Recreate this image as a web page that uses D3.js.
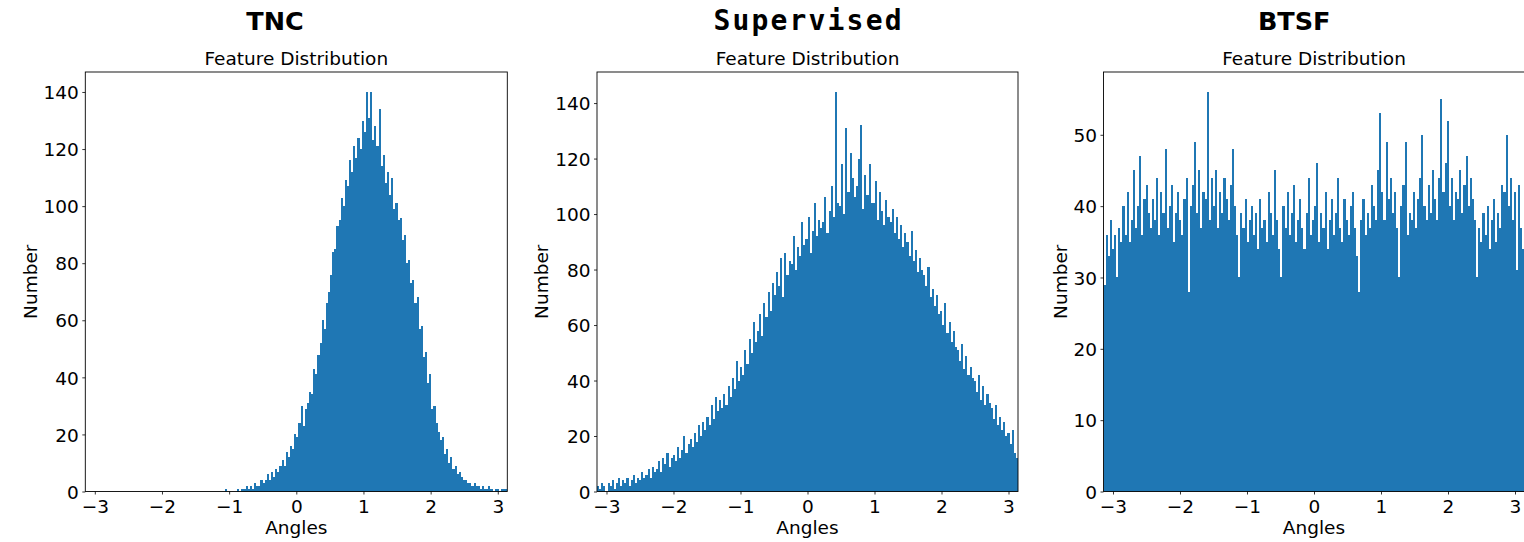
<!DOCTYPE html>
<html><head><meta charset="utf-8">
<script src="https://cdn.jsdelivr.net/npm/d3@7"></script>
<style>body{margin:0;background:#fff} svg{display:block}</style>
</head><body>
<svg id="chart" width="1524" height="542"></svg>
<script>
// ---- data: histogram bin counts over [-pi, pi], 200 bins each ----
const tncCounts = [
0,0,0,0,0,0,0,0,0,0, 0,0,0,0,0,0,0,0,0,0, 0,0,0,0,0,0,0,0,0,0,
0,0,0,0,0,0,0,0,0,0, 0,0,0,0,0,0,0,0,0,0, 0,0,0,0,0,0,0,0,0,0,
0,0,0,0,0,0,
1,0,0,0,0,0,1,0,1,1,2,1,2,1,3,2,2,4,3,4,6,4,7,5,8,7,9,11,9,14,12,16,15,20,
19,24,30,23,29,31,35,34,43,41,48,52,60,57,66,70,76,84,85,93,95,103,100,109,107,116,
112,121,117,124,120,130,126,140,131,140,123,128,121,134,114,118,108,112,104,110,
99,101,95,96,88,90,80,81,73,74,66,68,57,58,47,49,38,41,29,30,
24,21,18,19,13,15,10,12,8,9,6,7,5,4,4,3,3,2,3,2,
2,1,2,1,1,2,1,0,1,1,0,1,1,1
];
const supervisedCounts = [
2,1,3,2,0,3,2,4,1,3,5,2,
4,3,5,2,4,6,3,5,
4,7,5,6,8,5,9,7,
8,11,7,12,10,14,9,12,
13,11,16,12,15,20,14,17,
19,16,21,18,24,20,25,22,
27,24,31,26,34,29,33,30,
35,31,38,34,41,37,47,40,
45,42,51,46,55,50,61,54,
58,64,56,68,63,72,65,75,
71,79,74,84,70,86,78,83,
82,92,80,88,85,97,89,
91,99,86,94,104,92,98,95,
97,106,93,101,110,99,144,104,
103,118,100,131,108,122,113,106,
110,120,132,102,114,107,118,104,
104,112,98,108,101,96,105,99,
97,102,93,99,91,96,88,93,
90,85,94,83,87,79,84,80,
78,74,81,70,73,67,71,64,
65,60,68,57,61,54,58,52,
51,47,53,44,49,42,45,41,
40,36,42,33,38,31,35,32,
30,26,31,24,27,22,25,20,
21,17,22,14,12
];
const btsfCounts = [
29,36,33,38,34,36,30,37,35,40,
36,42,35,38,45,37,40,47,36,41,
43,39,37,41,38,44,36,42,39,48,
37,40,43,35,39,42,38,36,41,44,
28,40,43,49,39,45,37,42,41,56,
38,44,40,45,37,42,39,44,41,38,
43,48,40,36,30,39,37,41,35,38,
40,36,39,34,41,37,38,35,42,39,
36,45,38,34,30,40,37,42,36,39,
43,35,38,41,37,34,39,44,36,38,
40,46,35,39,37,42,34,38,41,36,
39,44,37,35,41,38,36,40,42,37,
33,28,38,41,36,39,37,43,40,38,
45,53,42,38,49,41,44,39,42,37,
30,40,43,49,36,39,38,42,37,41,
44,50,40,38,43,39,45,41,38,44,
55,42,46,52,40,44,38,42,41,45,
39,43,47,40,44,41,38,30,37,35,
39,36,40,34,38,41,35,39,37,43,
42,50,40,44,38,42,31,43,37,34
];
const xTickValues = [-3, -2, -1, 0, 1, 2, 3];
const tncYTicks = [0, 20, 40, 60, 80, 100, 120, 140];
const supervisedYTicks = [0, 20, 40, 60, 80, 100, 120, 140];
const btsfYTicks = [0, 10, 20, 30, 40, 50];
const panelTitles = ["TNC", "Supervised", "BTSF"];
const subtitleText = "Feature Distribution";
const xLabelText = "Angles";
const yLabelText = "Number";

// ---- layout ----
const TOP = 72, BOTTOM = 491.5;
const BAR = "#1f77b4";
const FONT = "'DejaVu Sans', sans-serif";
const panels = [
  {title: panelTitles[0], counts: tncCounts, yTicks: tncYTicks, left: 85.3, right: 507.3,
   titleX: 275, mono: false, ylabelX: 36.5},
  {title: panelTitles[1], counts: supervisedCounts, yTicks: supervisedYTicks, left: 597, right: 1018,
   titleX: 807.5, mono: true, ylabelX: 548.3},
  {title: panelTitles[2], counts: btsfCounts, yTicks: btsfYTicks, left: 1103.5, right: 1524.5,
   titleX: 1294.2, mono: false, ylabelX: 1066.7}
];

const svg = d3.select("#chart");
const PI = Math.PI;

panels.forEach(p => {
  const n = p.counts.length;
  const w = 2 * PI / n;
  const x = d3.scaleLinear().domain([-PI, PI]).range([p.left, p.right]);
  const y = d3.scaleLinear().domain([0, d3.max(p.counts) * 1.05]).range([BOTTOM, TOP]);
  const g = svg.append("g");

  const cid = "clip" + Math.round(p.left);
  svg.append("clipPath").attr("id", cid).append("rect")
    .attr("x", p.left).attr("y", TOP).attr("width", p.right - p.left).attr("height", BOTTOM - TOP);

  g.append("g").attr("clip-path", `url(#${cid})`).attr("shape-rendering", "crispEdges")
    .selectAll("rect").data(p.counts).join("rect")
    .attr("x", (d, i) => x(-PI + i * w))
    .attr("width", (d, i) => x(-PI + (i + 1) * w) - x(-PI + i * w))
    .attr("y", d => y(d))
    .attr("height", d => BOTTOM - y(d))
    .attr("fill", BAR);

  // x axis
  const xa = g.append("g").attr("transform", `translate(0,${BOTTOM})`)
    .call(d3.axisBottom(x).tickValues(xTickValues).tickSize(3).tickPadding(5)
      .tickFormat(v => (v < 0 ? "\u2212" + Math.abs(v) : String(v))));
  xa.select(".domain").remove();
  xa.selectAll("line").attr("stroke", "#000").attr("stroke-width", 0.8);
  xa.selectAll("text").attr("font-family", FONT).attr("font-size", 18.5).attr("fill", "#000");

  // y axis
  const ya = g.append("g").attr("transform", `translate(${p.left},0)`)
    .call(d3.axisLeft(y).tickValues(p.yTicks).tickSize(3).tickPadding(3.5));
  ya.select(".domain").remove();
  ya.selectAll("line").attr("stroke", "#000").attr("stroke-width", 0.8);
  ya.selectAll("text").attr("font-family", FONT).attr("font-size", 18.5).attr("fill", "#000")
    .attr("dy", "0.36em");

  // spines
  g.append("rect").attr("x", p.left).attr("y", TOP)
    .attr("width", p.right - p.left).attr("height", BOTTOM - TOP)
    .attr("fill", "none").attr("stroke", "#000").attr("stroke-width", 0.9);

  // subtitle
  g.append("text").attr("x", (p.left + p.right) / 2).attr("y", 65)
    .attr("text-anchor", "middle").attr("font-family", FONT).attr("font-size", 18.5)
    .attr("fill", "#000").text(subtitleText);

  // main title
  const t = g.append("text").attr("x", p.titleX).attr("y", 30)
    .attr("text-anchor", "middle").attr("font-weight", "bold").attr("fill", "#000")
    .text(p.title);
  if (p.mono) {
    t.attr("font-family", "'DejaVu Sans Mono', monospace").attr("font-size", 28)
     .attr("textLength", 188).attr("lengthAdjust", "spacing");
  } else {
    t.attr("font-family", FONT).attr("font-size", 25.5);
  }

  // x label
  g.append("text").attr("x", (p.left + p.right) / 2).attr("y", 534)
    .attr("text-anchor", "middle").attr("font-family", FONT).attr("font-size", 18.5)
    .attr("fill", "#000").text(xLabelText);

  // y label
  g.append("text").attr("transform", `translate(${p.ylabelX},${(TOP + BOTTOM) / 2}) rotate(-90)`)
    .attr("text-anchor", "middle").attr("font-family", FONT).attr("font-size", 18.5)
    .attr("fill", "#000").text(yLabelText);
});
</script>
</body></html>
